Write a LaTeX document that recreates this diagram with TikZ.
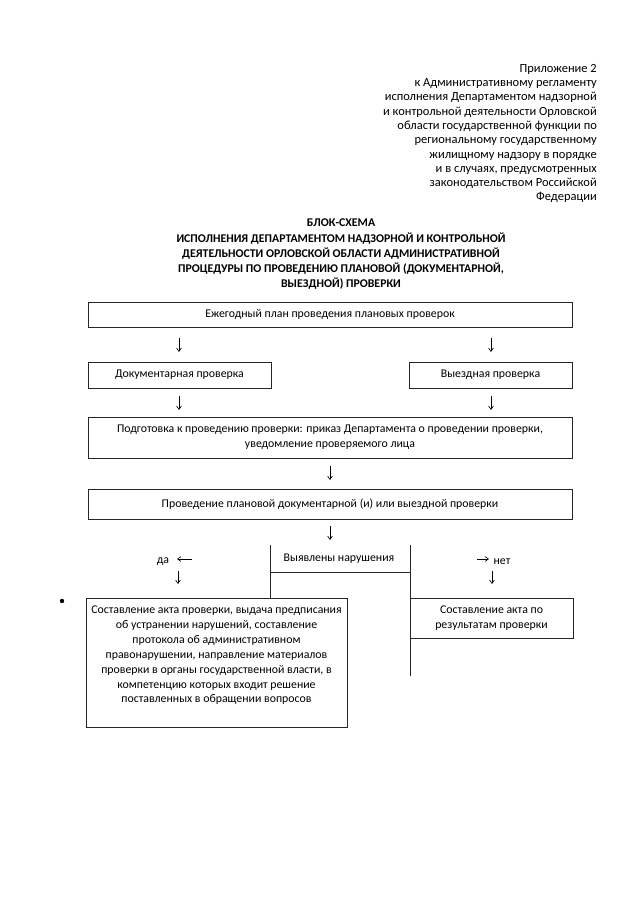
\documentclass[tikz,border=0pt]{standalone}
\usepackage{fontspec}
\setmainfont{Carlito}
\usetikzlibrary{arrows.meta}
\tikzset{
  txt/.style={font=\fontsize{11}{13.3}\selectfont, inner sep=0pt, align=center},
  box/.style 2 args={draw=black!85, line width=0.7pt, inner sep=0pt,
    minimum width={#1*0.93013pt}, minimum height={#2*0.93013pt},
    font=\fontsize{11}{14.2}\selectfont, align=center},
  arr/.style={draw=black, line width=0.6pt, -{Straight Barb[length=3.2pt,width=4.5pt]}},
  ln/.style={draw=black!85, line width=0.7pt}
}
\begin{document}
\begin{tikzpicture}[x=0.93013pt,y=-0.93013pt]
\useasboundingbox (0,0) rectangle (640,905);
\fill[white] (0,0) rectangle (640,905);

% header
\node[txt, font=\fontsize{11.6}{13.3}\selectfont, anchor=north east, align=right] (hdr) at (597,64) {Приложение 2\\к Административному регламенту\\исполнения Департаментом надзорной\\и контрольной деятельности Орловской\\области государственной функции по\\региональному государственному\\жилищному надзору в порядке\\и в случаях, предусмотренных\\законодательством Российской\\Федерации};

% title
\node[txt, anchor=north, font=\bfseries\fontsize{11}{14}\selectfont] (title) at (341,219) {БЛОК-СХЕМА\\ИСПОЛНЕНИЯ ДЕПАРТАМЕНТОМ НАДЗОРНОЙ И КОНТРОЛЬНОЙ\\ДЕЯТЕЛЬНОСТИ ОРЛОВСКОЙ ОБЛАСТИ АДМИНИСТРАТИВНОЙ\\ПРОЦЕДУРЫ ПО ПРОВЕДЕНИЮ ПЛАНОВОЙ (ДОКУМЕНТАРНОЙ,\\ВЫЕЗДНОЙ) ПРОВЕРКИ};

% boxes
\node[box={484}{25}] (plan) at (330,314.5) {Ежегодный план проведения плановых проверок};
\node[box={183}{26}] (doc) at (179.5,375) {Документарная проверка};
\node[box={163}{26}] (vyezd) at (490.5,375) {Выездная проверка};
\node[box={484}{41}] (prep) at (330,437.5) {Подготовка к проведению проверки: приказ Департамента о проведении проверки,\\уведомление проверяемого лица};
\node[box={484}{30}] (prov) at (330,504) {Проведение плановой документарной (и) или выездной проверки};
\node[box={261}{129}] (actL) at (216.5,662.5) {};
\node[txt, font=\fontsize{11}{13.8}\selectfont, anchor=north] (actLt) at (216.5,606) {Составление акта проверки, выдача предписания\\об устранении нарушений, составление\\протокола об административном\\правонарушении, направление материалов\\проверки в органы государственной власти, в\\компетенцию которых входит решение\\поставленных в обращении вопросов};
\node[box={163}{40}] (actR) at (491.5,618) {Составление акта по\\результатам проверки};

% decision
\coordinate (vlT) at (270,545);
\coordinate (vrT) at (410,545);
\coordinate (vrB) at (410,676);
\coordinate (hL) at (270,572);
\coordinate (hR) at (410,572);
\draw[ln] (vlT) -- (vlT |- actL.north);
\draw[ln] (vrT) -- (vrB);
\draw[ln] (hL) -- (hR);
\node[txt] (viol) at (339,559) {Выявлены нарушения};

% arrows
\coordinate (a1s) at (179,338); \coordinate (a1e) at (179,352);
\coordinate (a2s) at (491,338); \coordinate (a2e) at (491,352);
\coordinate (a3s) at (179,396); \coordinate (a3e) at (179,410);
\coordinate (a4s) at (491,396); \coordinate (a4e) at (491,410);
\coordinate (a5s) at (330,466); \coordinate (a5e) at (330,480);
\coordinate (a6s) at (330,526); \coordinate (a6e) at (330,540);
\coordinate (a7s) at (192,559); \coordinate (a7e) at (177,559);
\coordinate (a8s) at (178,571); \coordinate (a8e) at (178,584);
\coordinate (a9s) at (477,559); \coordinate (a9e) at (489,559);
\coordinate (a10s) at (492,571); \coordinate (a10e) at (492,584);
\foreach \i in {1,...,10} {\draw[arr] (a\i s) -- (a\i e);}
\node[txt] (da) at (163,562) {да};
\node[txt] (net) at (502,562) {нет};

% dot
\fill[black] (62,601) circle (2.2);
\end{tikzpicture}
\end{document}
